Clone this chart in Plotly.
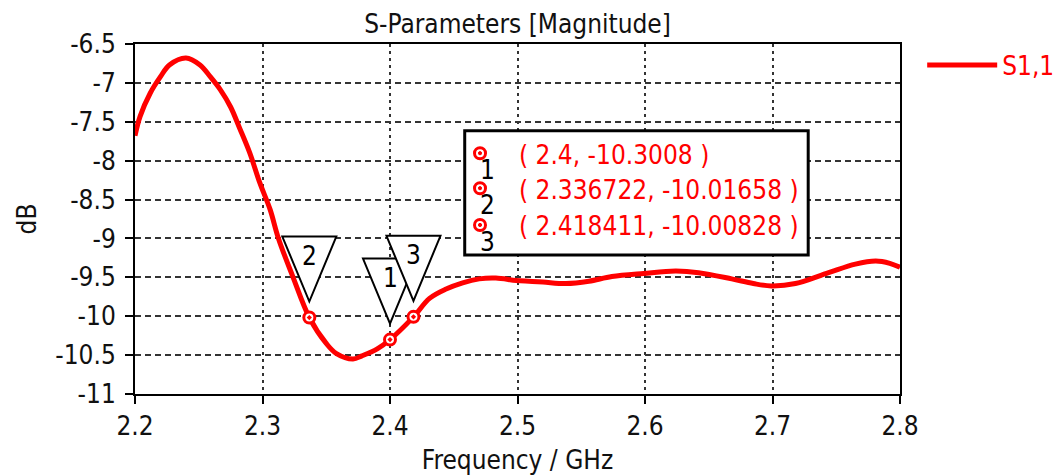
import plotly.graph_objects as go

# S1,1 magnitude
freq_ghz = [
    2.200, 2.204, 2.212, 2.220, 2.227, 2.240, 2.251, 2.259, 2.267, 2.275,
    2.282, 2.290, 2.298, 2.306, 2.3125, 2.324, 2.336722, 2.350, 2.358, 2.371,
    2.378, 2.390, 2.400, 2.418411, 2.431, 2.444, 2.457, 2.470, 2.483, 2.499,
    2.509, 2.520, 2.538, 2.556, 2.574, 2.599, 2.624, 2.642, 2.668, 2.685,
    2.699, 2.718, 2.744, 2.765, 2.781, 2.792, 2.800,
]
s11_db = [
    -7.68, -7.43, -7.13, -6.92, -6.77, -6.68, -6.77, -6.92, -7.09, -7.31,
    -7.58, -7.90, -8.29, -8.63, -9.00, -9.50, -10.01658, -10.35, -10.48, -10.55,
    -10.51, -10.42, -10.3008, -10.00828, -9.77, -9.65, -9.57, -9.52, -9.51, -9.54,
    -9.55, -9.56, -9.58, -9.55, -9.49, -9.45, -9.42, -9.44, -9.52, -9.58,
    -9.61, -9.58, -9.44, -9.33, -9.29, -9.32, -9.37,
]

# markers
marker_ids = ["1", "2", "3"]
marker_f = [2.4, 2.336722, 2.418411]
marker_db = [-10.3008, -10.01658, -10.00828]

x_ticks = [2.2, 2.3, 2.4, 2.5, 2.6, 2.7, 2.8]
x_ticktext = ["2.2", "2.3", "2.4", "2.5", "2.6", "2.7", "2.8"]
y_ticks = [-6.5, -7, -7.5, -8, -8.5, -9, -9.5, -10, -10.5, -11]
y_ticktext = ["-6.5", "-7", "-7.5", "-8", "-8.5", "-9", "-9.5", "-10", "-10.5", "-11"]

FONT = "DejaVu Sans Condensed, Liberation Sans, Arial, sans-serif"
RED = "#ff0000"
INK = "#111111"
FS = 26

fig = go.Figure()
fig.add_trace(
    go.Scatter(
        x=freq_ghz,
        y=s11_db,
        mode="lines",
        name="S1,1",
        line=dict(color=RED, width=5, shape="spline", smoothing=1.0),
    )
)
fig.add_trace(
    go.Scatter(
        x=marker_f,
        y=marker_db,
        mode="markers",
        showlegend=False,
        marker=dict(symbol="circle-dot", size=11, color="white",
                    line=dict(color=RED, width=3)),
    )
)

shapes = []
annotations = []

# triangle flags drawn above each marker point (marker 1 first so 3 sits on top)
for i in [1, 0, 2]:
    shapes.append(dict(
        type="path", xref="x", yref="y",
        xsizemode="pixel", ysizemode="pixel",
        xanchor=marker_f[i], yanchor=marker_db[i],
        path="M-27,81 L27,81 L0,16 Z",
        line=dict(color="black", width=2), fillcolor="white", layer="above",
    ))
    annotations.append(dict(
        x=marker_f[i], y=marker_db[i], xref="x", yref="y", yshift=62,
        text=marker_ids[i], showarrow=False,
        font=dict(family=FONT, size=FS, color="black"),
    ))

# marker readout box
box_x0, box_x1, box_y0, box_y1 = 0.431, 0.880, 0.397, 0.752
shapes.append(dict(
    type="rect", xref="paper", yref="paper",
    x0=box_x0, x1=box_x1, y0=box_y0, y1=box_y1,
    line=dict(color="black", width=3), fillcolor="white", layer="above",
))
row_y = [0.684, 0.584, 0.479]
for k in range(3):
    shapes.append(dict(
        type="circle", xref="paper", yref="paper",
        xsizemode="pixel", ysizemode="pixel",
        xanchor=0.451, yanchor=row_y[k] + 0.004,
        x0=-5.5, x1=5.5, y0=-5.5, y1=5.5,
        line=dict(color=RED, width=3), fillcolor="white", layer="above",
    ))
    shapes.append(dict(
        type="circle", xref="paper", yref="paper",
        xsizemode="pixel", ysizemode="pixel",
        xanchor=0.451, yanchor=row_y[k] + 0.004,
        x0=-1.6, x1=1.6, y0=-1.6, y1=1.6,
        line=dict(color=RED, width=1), fillcolor=RED, layer="above",
    ))
    annotations.append(dict(
        x=0.461, y=row_y[k] - 0.045, xref="paper", yref="paper",
        text=marker_ids[k], showarrow=False, xanchor="center", yanchor="middle",
        font=dict(family=FONT, size=FS, color="black"),
    ))
    annotations.append(dict(
        x=0.499, y=row_y[k], xref="paper", yref="paper",
        text=f"( {marker_f[k]}, {marker_db[k]} )", showarrow=False,
        xanchor="left", yanchor="middle",
        font=dict(family=FONT, size=FS, color=RED),
    ))

axis_common = dict(
    showline=True, linecolor="black", linewidth=2, mirror=True,
    ticks="outside", ticklen=8, tickwidth=2, tickcolor="black",
    showgrid=True, gridcolor="#333333", gridwidth=1.5,
    zeroline=False, automargin=False,
    tickfont=dict(family=FONT, size=FS, color=INK),
)

fig.update_xaxes(
    range=[2.2, 2.8], tickvals=x_ticks, ticktext=x_ticktext,
    griddash="3px,4px",
    title=dict(text="Frequency / GHz", font=dict(family=FONT, size=FS, color=INK),
               standoff=20),
    **axis_common,
)
fig.update_yaxes(
    range=[-11, -6.5], tickvals=y_ticks, ticktext=y_ticktext,
    griddash="6px,4px", ticklabelstandoff=4,
    title=dict(text="dB", font=dict(family=FONT, size=FS, color=INK),
               standoff=11),
    **axis_common,
)

fig.update_layout(
    width=1062,
    height=475,
    margin=dict(l=135, r=162, t=44, b=81, autoexpand=False),
    paper_bgcolor="white",
    plot_bgcolor="white",
    title=dict(text="S-Parameters [Magnitude]", x=0.5, xref="paper",
               y=1 - 24 / 475, yanchor="middle",
               font=dict(family=FONT, size=FS, color=INK)),
    showlegend=True,
    legend=dict(x=1.029, y=0.94, xanchor="left", yanchor="middle",
                itemwidth=70, font=dict(family=FONT, size=FS, color=RED),
                bgcolor="rgba(0,0,0,0)"),
    shapes=shapes,
    annotations=annotations,
)

# the page body has a default 8px margin; drop it so the figure fills the window
fig.write_html(
    "out.html",
    config={"displayModeBar": False},
    post_script="document.body.style.margin = '0';",
)
